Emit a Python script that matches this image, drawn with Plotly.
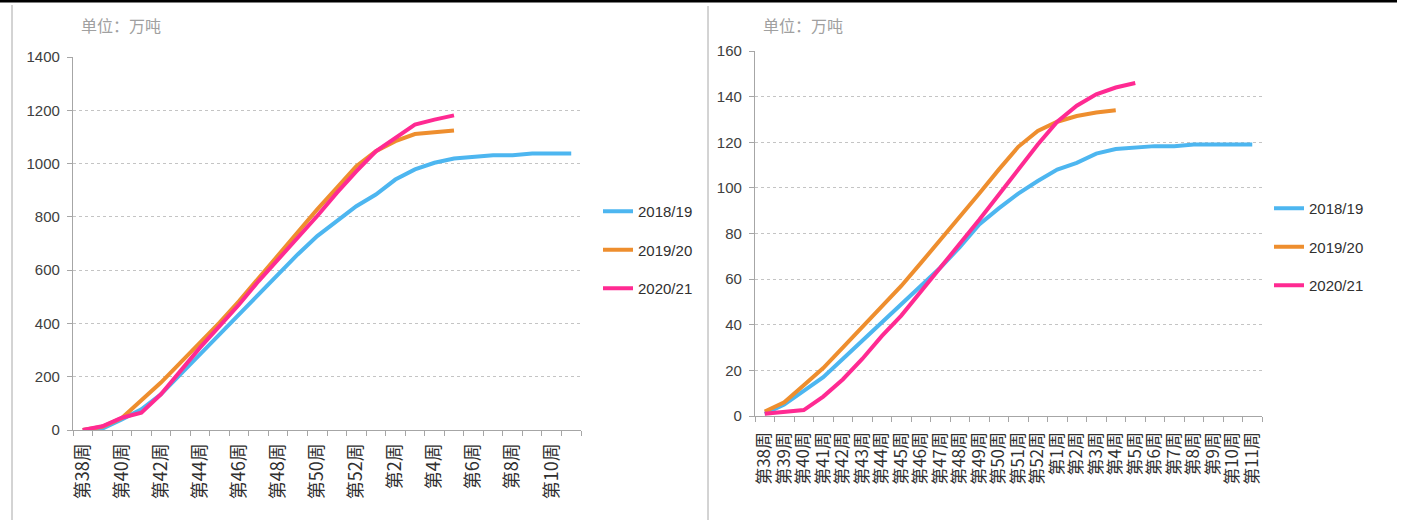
import plotly.graph_objects as go

# Marketing weeks shared by both panels
weeks = ["第38周", "第39周", "第40周", "第41周", "第42周", "第43周", "第44周",
         "第45周", "第46周", "第47周", "第48周", "第49周", "第50周", "第51周",
         "第52周", "第1周", "第2周", "第3周", "第4周", "第5周", "第6周",
         "第7周", "第8周", "第9周", "第10周", "第11周"]

seasons = ["2018/19", "2019/20", "2020/21"]
season_colors = ["#4DB6F0", "#EE8E2E", "#FF2A92"]

# Left panel: cumulative totals (万吨)
left_1819 = [0, 5, 40, 78, 134, 209, 284, 359, 434, 509, 584, 659, 728,
             784, 840, 884, 940, 978, 1003, 1019, 1024, 1031, 1031, 1038,
             1038, 1038]
left_1920 = [0, 12, 45, 109, 178, 253, 328, 403, 484, 571, 659, 746, 828,
             909, 990, 1046, 1084, 1111, 1119, 1124]
left_2021 = [0, 14, 46, 65, 134, 221, 309, 390, 471, 559, 640, 721, 803,
             890, 971, 1046, 1096, 1146, 1165, 1181]

# Right panel: cumulative totals (万吨)
right_1819 = [1, 5, 11, 17, 25, 33, 41, 49, 57, 65, 74, 84, 91, 97.5, 103,
              108, 111, 115, 117, 117.7, 118.3, 118.3, 119, 119, 119, 119]
right_1920 = [2, 6, 13.5, 21, 30, 39, 48, 57, 67, 77, 87, 97.5, 108, 118,
              125, 129, 131.5, 133, 134]
right_2021 = [1, 2, 2.6, 8.5, 16, 25, 35, 44, 54.5, 65, 75, 86, 97, 108,
              119, 129, 136, 141, 144, 146]

left_ticks = [w if i % 2 == 0 else "" for i, w in enumerate(weeks)]
right_ticks = weeks

W, H = 1402, 520


def px_x(p):
    return p / W


def px_y(p):
    return 1 - p / H


fig = go.Figure()

for name, color, vals in zip(seasons, season_colors, [left_1819, left_1920, left_2021]):
    fig.add_trace(go.Scatter(
        x=weeks[:len(vals)], y=vals, name=name, mode="lines",
        line=dict(color=color, width=4), xaxis="x", yaxis="y",
        legend="legend", legendgroup="L" + name))

for name, color, vals in zip(seasons, season_colors, [right_1819, right_1920, right_2021]):
    fig.add_trace(go.Scatter(
        x=weeks[:len(vals)], y=vals, name=name, mode="lines",
        line=dict(color=color, width=4), xaxis="x2", yaxis="y2",
        legend="legend2", legendgroup="R" + name))

axis_grey = "#A6A6A6"
tick_font = dict(family="Liberation Sans, Arial, sans-serif", size=15, color="#404040")


def cat_font(size):
    return dict(family="Noto Sans CJK SC, sans-serif", size=size, color="#303030")


common_x = dict(type="category", categoryorder="array", categoryarray=weeks,
                range=[-0.5, len(weeks) - 0.5], showgrid=False, zeroline=False,
                showline=True, linecolor=axis_grey, linewidth=1.3,
                ticks="outside", ticklen=5, tickcolor=axis_grey,
                tickson="boundaries", tickangle=-90,
                tickmode="array", tickvals=weeks, fixedrange=True,
                automargin=False)

common_y = dict(showgrid=True, gridcolor="#C4C4C4", griddash="dot", gridwidth=1,
                zeroline=False, showline=True, linecolor=axis_grey, linewidth=1.3,
                ticks="outside", ticklen=5, tickcolor=axis_grey,
                tickfont=tick_font, ticklabelstandoff=4,
                fixedrange=True, automargin=False)

legend_font = dict(family="Liberation Sans, Arial, sans-serif", size=15, color="#303030")

fig.update_layout(
    width=W, height=H,
    margin=dict(l=0, r=0, t=0, b=0, pad=0, autoexpand=False),
    paper_bgcolor="white", plot_bgcolor="white",
    showlegend=True,
    xaxis=dict(common_x, domain=[px_x(73), px_x(581)], anchor="y",
               ticktext=left_ticks, tickfont=cat_font(18), ticklabelstandoff=5),
    yaxis=dict(common_y, domain=[px_y(430), px_y(57)], anchor="x",
               range=[0, 1400], dtick=200),
    xaxis2=dict(common_x, domain=[px_x(755), px_x(1262)], anchor="y2",
                ticktext=right_ticks, tickfont=cat_font(17), ticklabelstandoff=8),
    yaxis2=dict(common_y, domain=[px_y(416), px_y(51)], anchor="x2",
                range=[0, 160], dtick=20),
    legend=dict(x=px_x(598), y=px_y(195), xanchor="left", yanchor="top",
                font=legend_font, tracegroupgap=16,
                bgcolor="rgba(0,0,0,0)", itemwidth=30),
    legend2=dict(x=px_x(1269), y=px_y(192), xanchor="left", yanchor="top",
                 font=legend_font, tracegroupgap=16,
                 bgcolor="rgba(0,0,0,0)", itemwidth=30),
)

unit_font = dict(family="Noto Sans CJK SC, sans-serif", size=16, color="#A0A0A0")
for x0 in (79, 761):
    fig.add_annotation(text="单位：万吨", x=px_x(x0), y=px_y(25), xref="paper", yref="paper",
                       xanchor="left", yanchor="middle", showarrow=False, font=unit_font)

# Frame: heavy rule along the top, thin border on the left, divider between panels
fig.add_shape(type="rect", xref="paper", yref="paper", x0=0, x1=px_x(1397),
              y0=px_y(2.5), y1=1, fillcolor="black", line=dict(width=0), layer="above")
for xv, ytop in ((12, 5), (708, 6)):
    fig.add_shape(type="line", xref="paper", yref="paper", x0=px_x(xv), x1=px_x(xv),
                  y0=0, y1=px_y(ytop), line=dict(color="#A8A8A8", width=1))

fig.write_html("out.html", post_script="document.body.style.margin='0';")
